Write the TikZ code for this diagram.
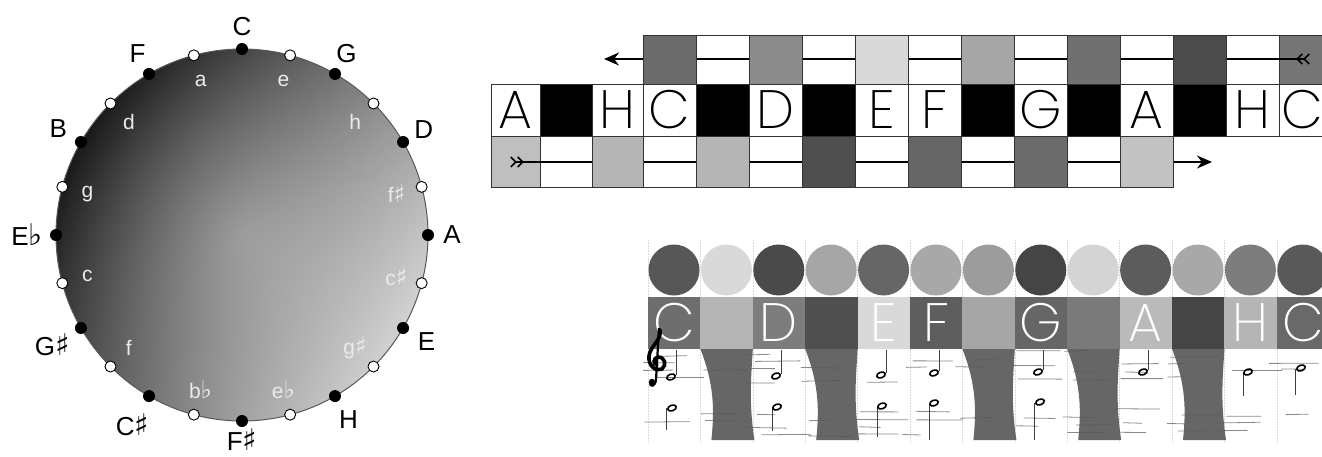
\documentclass[tikz,border=0pt]{standalone}
\usepackage{fontspec}
\setmainfont{Liberation Sans}
\newfontfamily\symf{DejaVu Sans}
\newfontfamily\geo{Poppins ExtraLight}
\usetikzlibrary{arrows.meta,fadings}
\tikzfading[name=glow, inner color=transparent!0, outer color=transparent!100]
\newcommand\shp{{\symf\scalebox{1.15}{♯}}}
\newcommand\flt{{\symf\scalebox{1.15}{♭}}}
\begin{document}
\begin{tikzpicture}[x=1pt,y=-1pt,
  cellb/.style={draw=black!80, line width=0.9pt},
  keyletter/.style={font=\geo\fontsize{54}{54}\selectfont, inner sep=0pt},
  wletter/.style={keyletter, text=white},
  lab/.style={font=\fontsize{26}{26}\selectfont, inner sep=0pt},
  sublab/.style={font=\fontsize{21}{21}\selectfont, inner sep=0pt, text=black!8},
  bdot/.style={circle, fill=black, minimum size=12pt, inner sep=0pt},
  wdot/.style={circle, fill=white, draw=black, line width=0.9pt, minimum size=11pt, inner sep=0pt},
  pcirc/.style={circle, minimum size=51pt, inner sep=0pt},
  bshape/.style={fill=black!60},
  gridl/.style={black!15, line width=0.6pt, densely dotted},
  staff/.style={black!65, line width=0.8pt, opacity=0.7},
  notehead/.style={black, line width=1.6pt},
  stem/.style={black!75, line width=0.8pt},
  arr/.style={line width=1.6pt, black}]
\useasboundingbox (0,0) rectangle (1322,456);
\clip (0,0) rectangle (1322,456);

% ---------------- circle of fifths ----------------
\begin{scope}[shift={(242,235)}, y=1pt]
  \coordinate (O) at (0,0);
  \shade[top color=black!90, bottom color=black!18, middle color=black!55, shading angle=60] (O) circle (186);
  \fill[white, path fading=glow, fill opacity=0.3] (O) circle (186);
  \draw[black!65, line width=1pt] (O) circle (186);
  \foreach \a [count=\i] in {90,60,30,0,-30,-60,-90,-120,-150,180,150,120}
    \node[bdot] (b\i) at (\a:186) {};
  \foreach \a [count=\i] in {105,75,45,15,-15,-45,-75,-105,-135,-165,165,135}
    \node[wdot] (w\i) at (\a:186) {};
  \node[lab] (lC) at (90:208) {C};
  \node[lab] (lG) at (60:209) {G};
  \node[lab] (lD) at (30:210) {D};
  \node[lab] (lA) at (0:210) {A};
  \node[lab] (lE) at (-30:213) {E};
  \node[lab] (lH) at (-60:213) {H};
  \node[lab] (lFs) at (-90:205) {F\shp};
  \node[lab] (lCs) at (-120:219) {C\shp};
  \node[lab] (lGs) at (-150:219) {G\shp};
  \node[lab] (lEb) at (180:215) {E\flt};
  \node[lab] (lB) at (150:212) {B};
  \node[lab] (lF) at (120:209) {F};
  \foreach \a/\t [count=\i] in {105/a,75/e,45/h,15/f\shp,-15/c\shp,-45/g\shp,-75/e\flt,-105/b\flt,-135/f,-165/c,165/g,135/d}
    \node[sublab] (s\i) at (\a:160) {\t};
\end{scope}

% ---------------- keyboard strip ----------------
\foreach \xa/\xb in {696/749, 802/855, 908/961, 1014/1067, 1120/1173, 1226/1279}
  \draw[cellb, fill=white] (\xa,35) rectangle (\xb,84);
\draw[cellb, fill=black!54] (1279,35) rectangle (1325,84);
\foreach \xa/\xb in {540/592, 643/696, 749/802, 855/908, 961/1014, 1067/1120}
  \draw[cellb, fill=white] (\xa,136) rectangle (\xb,187);
\draw[cellb, fill=black!25] (491,136) rectangle (540,187);
\coordinate (t1) at (1310,59);
\coordinate (h1) at (604,59);
\draw[arr, {Straight Barb[reversed,length=5pt,width=10pt] Straight Barb[reversed,length=5pt,width=10pt]}-{Stealth[length=15pt,width=13pt]}] (t1) -- (h1);
\coordinate (t2) at (510,162);
\coordinate (h2) at (1212,162);
\draw[arr, {Straight Barb[reversed,length=5pt,width=10pt] Straight Barb[reversed,length=5pt,width=10pt]}-{Stealth[length=15pt,width=13pt]}] (t2) -- (h2);
\foreach \xa/\xb/\g in {643/696/58, 749/802/45, 855/908/15, 961/1014/35, 1067/1120/56, 1173/1226/70}
  \draw[cellb, fill=black!\g] (\xa,35) rectangle (\xb,84);
\foreach \xa/\xb/\g in {592/643/29, 696/749/29, 802/855/69, 908/961/60, 1014/1067/58, 1120/1173/24}
  \draw[cellb, fill=black!\g] (\xa,136) rectangle (\xb,187);
\foreach \xa/\xb/\t [count=\i] in {491/540/A, 592/643/H, 643/696/C, 749/802/D, 855/908/E, 908/961/F, 1014/1067/G, 1120/1173/A, 1226/1279/H, 1279/1325/C} {
  \draw[cellb, fill=white] (\xa,84) rectangle (\xb,136);
  \node[keyletter] (m\i) at ({(\xa+\xb)/2},110) {\t};
}
\foreach \xa/\xb in {540/592, 696/749, 802/855, 961/1014, 1067/1120, 1173/1226}
  \draw[cellb, fill=black] (\xa,84) rectangle (\xb,136);

% ---------------- colour / notation panel ----------------
\foreach \k in {0,...,13}
  \draw[gridl] ({648+52.4*\k},240) -- ({648+52.4*\k},442);
\foreach \k/\g in {0/66,1/15,2/71,3/35,4/60,5/34,6/39,7/73,8/17,9/64,10/34,11/51,12/65}
  \node[pcirc, fill=black!\g] (pc\k) at ({674+52.4*\k},270) {};
\foreach \k/\g in {0/57,1/29,2/51,3/69,4/15,5/63,6/35,7/60,8/52,9/27,10/73,11/29,12/59}
  \fill[black!\g] ({648+52.4*\k},297) rectangle ({648+52.4*(\k+1)+0.3},349);
\foreach \k/\t in {0/C,2/D,4/E,5/F,7/G,9/A,11/H,12/C}
  \node[wletter] (bl\k) at ({674+52.4*\k},323) {\t};
\foreach \k in {1,3,6,8,10} {
  \pgfmathsetmacro\xo{648+52.4*\k}
  \fill[bshape] (\xo,349) -- ({\xo+52.4},349)
     .. controls ({\xo+51},375) and ({\xo+48},400) .. ({\xo+54},440)
     -- ({\xo+11},440)
     .. controls ({\xo+14},410) and ({\xo+14},385) .. (\xo,349) -- cycle;
}
% staff lines (sketchy)
\pgfmathsetseed{11}
\foreach \k in {0,...,12} {
  \foreach \yy in {356,363,370,377,384,415,422,429,437} {
    \pgfmathsetmacro\pr{rnd}
    \pgfmathsetmacro\xa{648+52.4*\k-8+18*rnd}
    \pgfmathsetmacro\xb{\xa+18+34*rnd}
    \pgfmathsetmacro\ya{\yy-0.6*\k+2*rnd-1}
    \pgfmathsetmacro\yb{\ya+1.6*rnd-0.8}
    \ifdim\pr pt>0.4pt \draw[staff] (\xa,\ya) -- (\xb,\yb);\fi
  }
}
% notes
\foreach \x/\y/\s/\sa/\sb in {671/377/676/350/375, 672/408/666/408/430, 776/376/781.5/350/374, 777/407/772/407/431,
  881/375/886.5/350/373, 882/406/877/406/437, 934/373/939/350/371, 934/403/929/404/440,
  1038/372/1043.5/350/370, 1040/402/1034.5/403/440, 1143/372/1148/350/370,
  1248/372/1243/373/396, 1301/368/1295.5/369/395} {
  \draw[stem] (\s,\sa) -- (\s,\sb);
  \draw[notehead, rotate around={20:(\x,\y)}] (\x,\y) ellipse [x radius=4.4pt, y radius=2.8pt];
}
% treble clef
\draw[line width=3.6pt, line cap=round] (660,330) .. controls (662,340) and (650,346) .. (649,356)
  .. controls (648,366) and (656,372) .. (662,369) .. controls (667,365) and (665,357) .. (658,357)
  .. controls (653,358) and (653,364) .. (657,365);
\draw[line width=2.2pt] (659,328) -- (656,380) .. controls (655,387) and (650,387) .. (650,383);
\fill (652,382) circle (3.2pt);
\end{tikzpicture}
\end{document}
